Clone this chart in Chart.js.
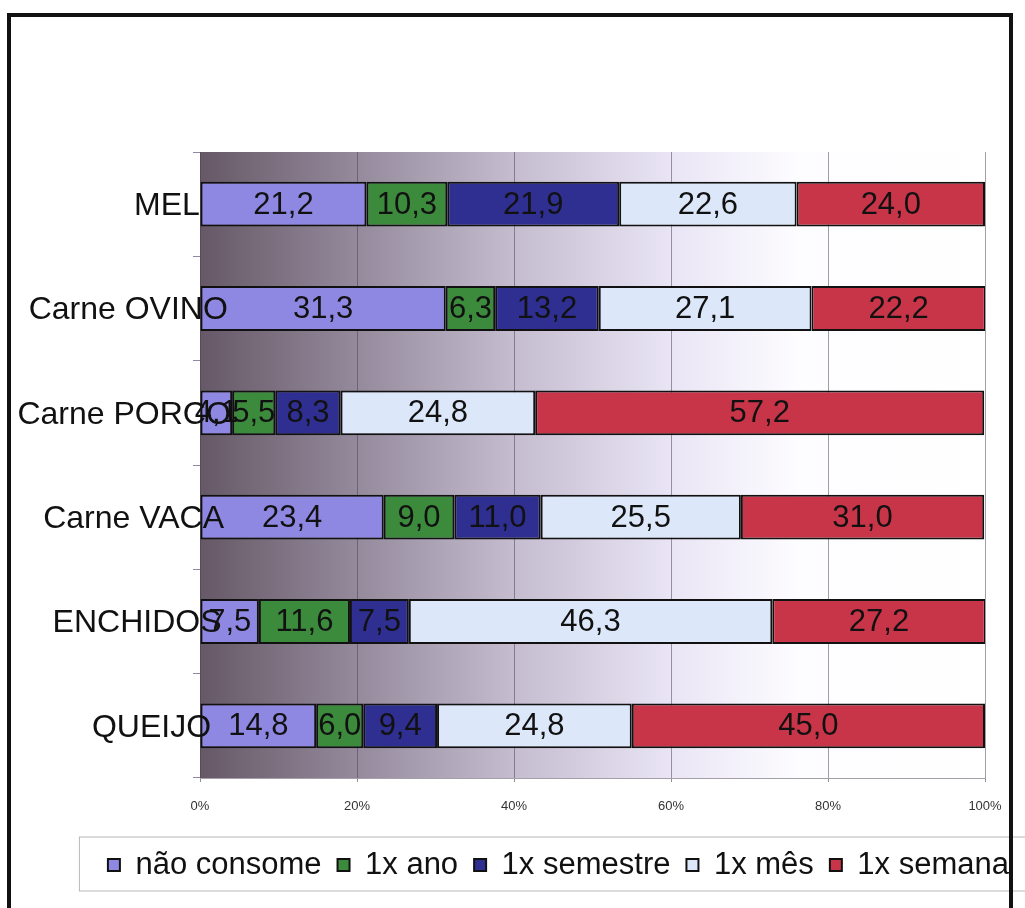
<!DOCTYPE html>
<html>
<head>
<meta charset="utf-8">
<script src="https://cdn.jsdelivr.net/npm/chart.js@4/dist/chart.umd.min.js"></script>
<style>
  html, body { margin: 0; padding: 0; background: #fff; overflow: hidden; }
  #wrap { position: relative; width: 1025px; height: 908px; }
</style>
</head>
<body>
<div id="wrap"><canvas id="chart"></canvas></div>
<script>
// Frequency of consumption per product (% of respondents)
const categories = ['MEL', 'Carne OVINO', 'Carne PORCO', 'Carne VACA', 'ENCHIDOS', 'QUEIJO'];
const seriesNames = ['não consome', '1x ano', '1x semestre', '1x mês', '1x semana'];
const naoConsome = [21.2, 31.3, 4.1, 23.4, 7.5, 14.8];
const umAno      = [10.3, 6.3, 5.5, 9.0, 11.6, 6.0];
const umSemestre = [21.9, 13.2, 8.3, 11.0, 7.5, 9.4];
const umMes      = [22.6, 27.1, 24.8, 25.5, 46.3, 24.8];
const umaSemana  = [24.0, 22.2, 57.2, 31.0, 27.2, 45.0];
const xTicks = [0, 20, 40, 60, 80, 100];

const seriesValues = [naoConsome, umAno, umSemestre, umMes, umaSemana];
const seriesColors = ['#8f88e3', '#3c8a3c', '#2f2f92', '#dce8fa', '#c93548'];

const FONT = 'Arial, "Liberation Sans", sans-serif';

// Plot background: dark mauve on the left fading to white on the right
const backdrop = {
  id: 'backdrop',
  beforeDraw(chart) {
    const { ctx, chartArea: a, width, height } = chart;
    ctx.save();
    ctx.fillStyle = '#ffffff';
    ctx.fillRect(0, 0, width, height);
    const g = ctx.createLinearGradient(a.left, 0, a.right, 0);
    g.addColorStop(0.00, '#665866');
    g.addColorStop(0.20, '#948a9c');
    g.addColorStop(0.40, '#c5bccf');
    g.addColorStop(0.60, '#e9e5f5');
    g.addColorStop(0.76, '#fdfcff');
    g.addColorStop(1.00, '#ffffff');
    ctx.fillStyle = g;
    ctx.fillRect(a.left, a.top, a.right - a.left, a.bottom - a.top);
    ctx.restore();
  }
};

// Value written in the middle of every segment, and the category names,
// which run partly into the plot (longer names further) and sit on top of the bars
const overlayText = {
  id: 'overlayText',
  afterDatasetsDraw(chart) {
    const { ctx, chartArea } = chart;
    ctx.save();
    ctx.fillStyle = '#111';
    ctx.textBaseline = 'middle';

    ctx.font = '31px ' + FONT;
    ctx.textAlign = 'center';
    chart.data.datasets.forEach((ds, di) => {
      const meta = chart.getDatasetMeta(di);
      meta.data.forEach((bar, i) => {
        const v = ds.data[i];
        const cx = (bar.x + bar.base) / 2;
        ctx.fillText(v.toFixed(1).replace('.', ','), cx, bar.y + 1);
      });
    });

    const yScale = chart.scales.y;
    ctx.font = '32px ' + FONT;
    ctx.textAlign = 'left';
    chart.data.labels.forEach((name, i) => {
      const w = ctx.measureText(name).width;
      const x = chartArea.left - 14 - 0.79 * w;
      ctx.fillText(name, x, yScale.getPixelForValue(i) + 2);
    });
    ctx.restore();
  }
};

// Legend frame and outer chart border
const frames = {
  id: 'frames',
  afterDraw(chart) {
    const { ctx, legend, width } = chart;
    ctx.save();
    const first = legend.legendHitBoxes[0];
    ctx.strokeStyle = '#b8b8b8';
    ctx.lineWidth = 1;
    ctx.strokeRect(first.left - 28.5, legend.top + 3.5, width + 20, legend.bottom - legend.top - 3);
    ctx.strokeStyle = '#111';
    ctx.lineWidth = 4;
    ctx.strokeRect(9, 15, 1002, 960);
    ctx.restore();
  }
};

new Chart(document.getElementById('chart'), {
  type: 'bar',
  data: {
    labels: categories,
    datasets: seriesNames.map((name, k) => ({
      label: name,
      data: seriesValues[k],
      backgroundColor: seriesColors[k],
      borderColor: '#111',
      borderWidth: 2,
      borderSkipped: false,
      categoryPercentage: 1,
      barPercentage: 0.43
    }))
  },
  options: {
    indexAxis: 'y',
    responsive: true,
    maintainAspectRatio: false,
    animation: false,
    events: [],
    layout: { padding: { top: 152, bottom: 17.5, left: 0, right: 0 } },
    scales: {
      x: {
        stacked: true,
        min: 0,
        max: 100,
        afterBuildTicks(s) { s.ticks = xTicks.map(v => ({ value: v })); },
        afterFit(s) { s.height = 55.5; },
        ticks: {
          callback: v => v + '%',
          font: { family: FONT, size: 13 },
          color: '#333',
          padding: 17
        },
        grid: {
          color: 'rgba(70,60,80,0.5)',
          lineWidth: 1,
          tickLength: 4,
          tickColor: 'rgba(120,115,125,0.8)'
        },
        border: { display: true, color: '#a49fa8', width: 1 }
      },
      y: {
        stacked: true,
        afterFit(s) { s.width = 200; },
        ticks: { display: false },
        grid: {
          drawOnChartArea: false,
          offset: true,
          tickLength: 7,
          tickColor: '#9088a0'
        },
        border: { display: false }
      },
      edge: {
        type: 'linear',
        position: 'right',
        display: true,
        afterFit(s) { s.width = 40; },
        ticks: { display: false },
        grid: { display: false },
        border: { display: false }
      }
    },
    plugins: {
      legend: {
        position: 'bottom',
        align: 'end',
        labels: {
          font: { family: FONT, size: 31 },
          color: '#111',
          boxWidth: 12,
          boxHeight: 12,
          padding: 16
        }
      },
      tooltip: { enabled: false }
    }
  },
  plugins: [backdrop, overlayText, frames]
});
</script>
</body>
</html>
